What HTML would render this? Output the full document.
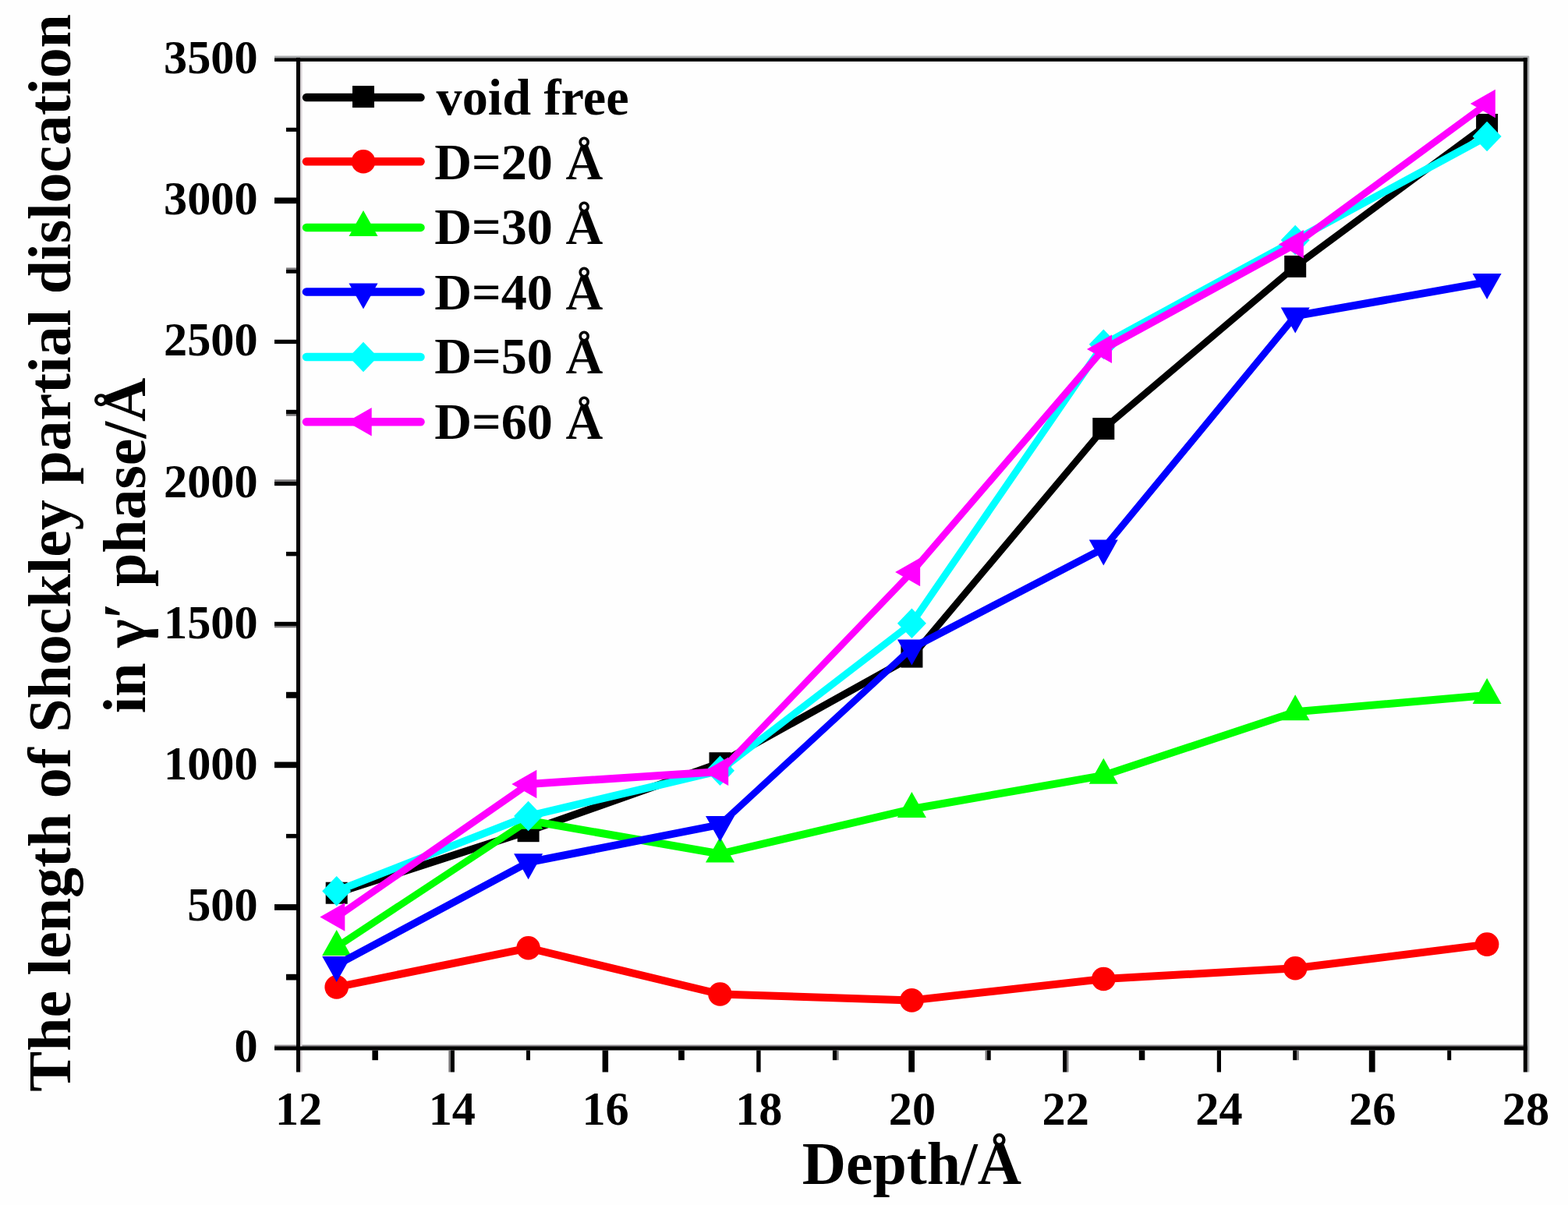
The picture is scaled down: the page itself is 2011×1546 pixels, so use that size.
<!DOCTYPE html>
<html lang="en"><head><meta charset="utf-8"><title>The length of Shockley partial dislocation vs Depth</title>
<style>
html,body{margin:0;padding:0;background:#fff;}
body{width:2011px;height:1546px;overflow:hidden;}
svg{display:block;}
text{font-family:"Liberation Serif","DejaVu Serif",serif;font-weight:bold;fill:#000;}
.tick{font-size:60.3px;}
.leg{font-size:66.2px;}
.ttl{font-size:77.9px;}
</style></head><body>
<svg width="2011" height="1546" viewBox="0 0 2011 1546" role="img" aria-label="Line chart">
<rect x="0" y="0" width="2011" height="1546" fill="#fefefe"/>
<g fill="none" stroke-linejoin="round" stroke-linecap="round">
<g stroke="#000000">
<line x1="431.7" y1="1145.7" x2="677.6" y2="1066.2" stroke-width="9.75"/>
<line x1="677.6" y1="1066.2" x2="923.5" y2="979.2" stroke-width="9.71"/>
<line x1="923.5" y1="979.2" x2="1169.4" y2="842.6" stroke-width="9.35"/>
<line x1="1169.4" y1="842.6" x2="1415.3" y2="550" stroke-width="8.75"/>
<line x1="1415.3" y1="550" x2="1661.2" y2="341.9" stroke-width="8.74"/>
<line x1="1661.2" y1="341.9" x2="1907.1" y2="160" stroke-width="8.97"/>
<rect x="417.7" y="1131.7" width="28" height="28" fill="#000000" stroke="none"/>
<rect x="663.6" y="1052.2" width="28" height="28" fill="#000000" stroke="none"/>
<rect x="909.5" y="965.2" width="28" height="28" fill="#000000" stroke="none"/>
<rect x="1155.4" y="828.6" width="28" height="28" fill="#000000" stroke="none"/>
<rect x="1401.3" y="536" width="28" height="28" fill="#000000" stroke="none"/>
<rect x="1647.2" y="327.9" width="28" height="28" fill="#000000" stroke="none"/>
<rect x="1893.1" y="146" width="28" height="28" fill="#000000" stroke="none"/>
</g>
<g stroke="#ff0000">
<line x1="431.7" y1="1266.5" x2="677.6" y2="1216.3" stroke-width="9.9"/>
<line x1="677.6" y1="1216.3" x2="923.5" y2="1275.5" stroke-width="9.86"/>
<line x1="923.5" y1="1275.5" x2="1169.4" y2="1283.4" stroke-width="10"/>
<line x1="1169.4" y1="1283.4" x2="1415.3" y2="1256" stroke-width="9.97"/>
<line x1="1415.3" y1="1256" x2="1661.2" y2="1242.2" stroke-width="9.99"/>
<line x1="1661.2" y1="1242.2" x2="1907.1" y2="1211.6" stroke-width="9.96"/>
<circle cx="431.7" cy="1266.5" r="15.3" fill="#ff0000" stroke="none"/>
<circle cx="677.6" cy="1216.3" r="15.3" fill="#ff0000" stroke="none"/>
<circle cx="923.5" cy="1275.5" r="15.3" fill="#ff0000" stroke="none"/>
<circle cx="1169.4" cy="1283.4" r="15.3" fill="#ff0000" stroke="none"/>
<circle cx="1415.3" cy="1256" r="15.3" fill="#ff0000" stroke="none"/>
<circle cx="1661.2" cy="1242.2" r="15.3" fill="#ff0000" stroke="none"/>
<circle cx="1907.1" cy="1211.6" r="15.3" fill="#ff0000" stroke="none"/>
</g>
<g stroke="#00ff00">
<line x1="431.7" y1="1215" x2="677.6" y2="1052.7" stroke-width="9.14"/>
<line x1="677.6" y1="1052.7" x2="923.5" y2="1095.5" stroke-width="9.93"/>
<line x1="923.5" y1="1095.5" x2="1169.4" y2="1038" stroke-width="9.87"/>
<line x1="1169.4" y1="1038" x2="1415.3" y2="994.8" stroke-width="9.92"/>
<line x1="1415.3" y1="994.8" x2="1661.2" y2="913.3" stroke-width="9.74"/>
<line x1="1661.2" y1="913.3" x2="1907.1" y2="892" stroke-width="9.98"/>
<polygon points="431.7,1193 450.2,1226 413.2,1226" fill="#00ff00" stroke="none"/>
<polygon points="677.6,1030.7 696.1,1063.7 659.1,1063.7" fill="#00ff00" stroke="none"/>
<polygon points="923.5,1073.5 942,1106.5 905,1106.5" fill="#00ff00" stroke="none"/>
<polygon points="1169.4,1016 1187.9,1049 1150.9,1049" fill="#00ff00" stroke="none"/>
<polygon points="1415.3,972.8 1433.8,1005.8 1396.8,1005.8" fill="#00ff00" stroke="none"/>
<polygon points="1661.2,891.3 1679.7,924.3 1642.7,924.3" fill="#00ff00" stroke="none"/>
<polygon points="1907.1,870 1925.6,903 1888.6,903" fill="#00ff00" stroke="none"/>
</g>
<g stroke="#0000ff">
<line x1="431.7" y1="1238" x2="677.6" y2="1106.3" stroke-width="9.39"/>
<line x1="677.6" y1="1106.3" x2="923.5" y2="1058" stroke-width="9.91"/>
<line x1="923.5" y1="1058" x2="1169.4" y2="831.5" stroke-width="8.58"/>
<line x1="1169.4" y1="831.5" x2="1415.3" y2="703.6" stroke-width="9.42"/>
<line x1="1415.3" y1="703.6" x2="1661.2" y2="405.4" stroke-width="8.78"/>
<line x1="1661.2" y1="405.4" x2="1907.1" y2="361.9" stroke-width="9.92"/>
<polygon points="431.7,1260 450.2,1227 413.2,1227" fill="#0000ff" stroke="none"/>
<polygon points="677.6,1128.3 696.1,1095.3 659.1,1095.3" fill="#0000ff" stroke="none"/>
<polygon points="923.5,1080 942,1047 905,1047" fill="#0000ff" stroke="none"/>
<polygon points="1169.4,853.5 1187.9,820.5 1150.9,820.5" fill="#0000ff" stroke="none"/>
<polygon points="1415.3,725.6 1433.8,692.6 1396.8,692.6" fill="#0000ff" stroke="none"/>
<polygon points="1661.2,427.4 1679.7,394.4 1642.7,394.4" fill="#0000ff" stroke="none"/>
<polygon points="1907.1,383.9 1925.6,350.9 1888.6,350.9" fill="#0000ff" stroke="none"/>
</g>
<g stroke="#00ffff">
<line x1="431.7" y1="1143.3" x2="677.6" y2="1047" stroke-width="9.65"/>
<line x1="677.6" y1="1047" x2="923.5" y2="988.8" stroke-width="9.86"/>
<line x1="923.5" y1="988.8" x2="1169.4" y2="799.7" stroke-width="8.9"/>
<line x1="1169.4" y1="799.7" x2="1415.3" y2="441.8" stroke-width="9.08"/>
<line x1="1415.3" y1="441.8" x2="1661.2" y2="308" stroke-width="9.37"/>
<line x1="1661.2" y1="308" x2="1907.1" y2="175" stroke-width="9.38"/>
<polygon points="431.7,1124 450.2,1143.3 431.7,1162.5 413.2,1143.3" fill="#00ffff" stroke="none"/>
<polygon points="677.6,1027.8 696.1,1047 677.6,1066.2 659.1,1047" fill="#00ffff" stroke="none"/>
<polygon points="923.5,969.5 942,988.8 923.5,1008 905,988.8" fill="#00ffff" stroke="none"/>
<polygon points="1169.4,780.5 1187.9,799.7 1169.4,819 1150.9,799.7" fill="#00ffff" stroke="none"/>
<polygon points="1415.3,422.6 1433.8,441.8 1415.3,461.1 1396.8,441.8" fill="#00ffff" stroke="none"/>
<polygon points="1661.2,288.8 1679.7,308 1661.2,327.2 1642.7,308" fill="#00ffff" stroke="none"/>
<polygon points="1907.1,155.8 1925.6,175 1907.1,194.2 1888.6,175" fill="#00ffff" stroke="none"/>
</g>
<g stroke="#ff00ff">
<line x1="431.7" y1="1176.6" x2="677.6" y2="1006" stroke-width="9.06"/>
<line x1="677.6" y1="1006" x2="923.5" y2="989.9" stroke-width="9.99"/>
<line x1="923.5" y1="989.9" x2="1169.4" y2="734" stroke-width="8.49"/>
<line x1="1169.4" y1="734" x2="1415.3" y2="447.9" stroke-width="8.71"/>
<line x1="1415.3" y1="447.9" x2="1661.2" y2="313.4" stroke-width="9.37"/>
<line x1="1661.2" y1="313.4" x2="1907.1" y2="133" stroke-width="8.98"/>
<polygon points="410.3,1176.6 442.3,1158.3 442.3,1194.8" fill="#ff00ff" stroke="none"/>
<polygon points="656.3,1006 688.3,987.8 688.3,1024.2" fill="#ff00ff" stroke="none"/>
<polygon points="902.2,989.9 934.2,971.6 934.2,1008.1" fill="#ff00ff" stroke="none"/>
<polygon points="1148.1,734 1180.1,715.8 1180.1,752.2" fill="#ff00ff" stroke="none"/>
<polygon points="1394,447.9 1426,429.6 1426,466.1" fill="#ff00ff" stroke="none"/>
<polygon points="1639.9,313.4 1671.9,295.1 1671.9,331.6" fill="#ff00ff" stroke="none"/>
<polygon points="1885.8,133 1917.8,114.8 1917.8,151.2" fill="#ff00ff" stroke="none"/>
</g>
</g>
<g fill="#000">
<rect x="352" y="71.6" width="1608.8" height="3" fill="#a9abad"/>
<rect x="352" y="1340.5" width="1606.8" height="2.5" fill="#8f8b8f"/>
<rect x="1958.8" y="72.1" width="2.5" height="1303.4" fill="#a9abad"/>
<rect x="385" y="79.1" width="2.5" height="1296.4" fill="#d8d2d6"/>
<rect x="352" y="74.4" width="1606.8" height="4.5"/>
<rect x="352" y="1342.5" width="1606.8" height="5"/>
<rect x="380" y="74.1" width="5" height="1301.4"/>
<rect x="1953.8" y="74.1" width="5" height="1301.4"/>
<rect x="367" y="163.8" width="13" height="5.1"/>
<rect x="352" y="253.5" width="28" height="7.7"/>
<rect x="367" y="345.7" width="13" height="5"/>
<rect x="367" y="343.5" width="13" height="2.2" fill="#757375"/>
<rect x="352" y="435.8" width="28" height="5.3"/>
<rect x="367" y="525.8" width="13" height="5.7"/>
<rect x="367" y="531.5" width="13" height="2.2" fill="#757375"/>
<rect x="352" y="617.8" width="28" height="5.4"/>
<rect x="352" y="615.3" width="28" height="2.5" fill="#757375"/>
<rect x="367" y="707.9" width="13" height="5.5"/>
<rect x="352" y="797.8" width="28" height="5.3"/>
<rect x="352" y="803.1" width="28" height="2.2" fill="#757375"/>
<rect x="367" y="887.8" width="13" height="7.9"/>
<rect x="352" y="977.5" width="28" height="7.7"/>
<rect x="367" y="1069.9" width="13" height="5.5"/>
<rect x="352" y="1160.1" width="28" height="7.7"/>
<rect x="367" y="1249.8" width="13" height="7.7"/>
<rect x="477.4" y="1347.5" width="7.5" height="12.7"/>
<rect x="577.9" y="1347.5" width="5" height="28"/>
<rect x="575.4" y="1347.5" width="2.5" height="28" fill="#757375"/>
<rect x="675" y="1347.5" width="5" height="12.7"/>
<rect x="772.6" y="1347.5" width="7.5" height="28"/>
<rect x="870.1" y="1347.5" width="7.7" height="12.7"/>
<rect x="970.2" y="1347.5" width="5.4" height="28"/>
<rect x="1067.9" y="1347.5" width="5.2" height="12.7"/>
<rect x="1073.1" y="1347.5" width="2.5" height="12.7" fill="#757375"/>
<rect x="1165.3" y="1347.5" width="7.7" height="28"/>
<rect x="1265.8" y="1347.5" width="4.9" height="12.7"/>
<rect x="1263.6" y="1347.5" width="2.2" height="12.7" fill="#757375"/>
<rect x="1363.1" y="1347.5" width="5.2" height="28"/>
<rect x="1368.3" y="1347.5" width="2.1" height="28" fill="#757375"/>
<rect x="1460.8" y="1347.5" width="7.5" height="12.7"/>
<rect x="1560.8" y="1347.5" width="5.2" height="28"/>
<rect x="1658.2" y="1347.5" width="5.1" height="12.7"/>
<rect x="1663.3" y="1347.5" width="2.5" height="12.7" fill="#757375"/>
<rect x="1755.8" y="1347.5" width="7.8" height="28"/>
<rect x="1856.2" y="1347.5" width="5" height="12.7"/>
</g>
<text class="tick" text-anchor="end" transform="translate(330.6 1362.4) scale(1.0 1.03)">0</text>
<text class="tick" text-anchor="end" transform="translate(330.6 1181.2) scale(1.0 1.03)">500</text>
<text class="tick" text-anchor="end" transform="translate(330.6 1000) scale(1.0 1.03)">1000</text>
<text class="tick" text-anchor="end" transform="translate(330.6 818.8) scale(1.0 1.03)">1500</text>
<text class="tick" text-anchor="end" transform="translate(330.6 637.6) scale(1.0 1.03)">2000</text>
<text class="tick" text-anchor="end" transform="translate(330.6 456.4) scale(1.0 1.03)">2500</text>
<text class="tick" text-anchor="end" transform="translate(330.6 275.2) scale(1.0 1.03)">3000</text>
<text class="tick" text-anchor="end" transform="translate(330.6 94) scale(1.0 1.03)">3500</text>
<text class="tick" text-anchor="middle" transform="translate(383.1 1443.2) scale(1.0 1.03)">12</text>
<text class="tick" text-anchor="middle" transform="translate(579.83 1443.2) scale(1.0 1.03)">14</text>
<text class="tick" text-anchor="middle" transform="translate(776.55 1443.2) scale(1.0 1.03)">16</text>
<text class="tick" text-anchor="middle" transform="translate(973.27 1443.2) scale(1.0 1.03)">18</text>
<text class="tick" text-anchor="middle" transform="translate(1170 1443.2) scale(1.0 1.03)">20</text>
<text class="tick" text-anchor="middle" transform="translate(1366.72 1443.2) scale(1.0 1.03)">22</text>
<text class="tick" text-anchor="middle" transform="translate(1563.45 1443.2) scale(1.0 1.03)">24</text>
<text class="tick" text-anchor="middle" transform="translate(1760.17 1443.2) scale(1.0 1.03)">26</text>
<text class="tick" text-anchor="middle" transform="translate(1956.9 1443.2) scale(1.0 1.03)">28</text>
<text class="ttl" text-anchor="middle" transform="translate(1169.3 1519)">Depth/Å</text>
<text class="ttl" text-anchor="middle" transform="translate(90 709.4) rotate(-90)">The length of Shockley partial dislocation</text>
<text class="ttl" text-anchor="middle" transform="translate(186.3 700) rotate(-90)">in γ′ phase/Å</text>
<g>
<line x1="393" y1="125.1" x2="539.5" y2="125.1" stroke="#000000" stroke-width="10.5" stroke-linecap="round"/>
<rect x="452" y="110.1" width="28" height="28" fill="#000000" stroke="none"/>
<text class="leg" text-anchor="start" transform="translate(559.6 146.6)">void free</text>
<line x1="393" y1="207.3" x2="539.5" y2="207.3" stroke="#ff0000" stroke-width="10.5" stroke-linecap="round"/>
<circle cx="466" cy="207.3" r="15.3" fill="#ff0000" stroke="none"/>
<text class="leg" text-anchor="start" transform="translate(557.2 229.6)">D=20 Å</text>
<line x1="393" y1="291.9" x2="539.5" y2="291.9" stroke="#00ff00" stroke-width="10.5" stroke-linecap="round"/>
<polygon points="466,269.9 484.5,302.9 447.5,302.9" fill="#00ff00" stroke="none"/>
<text class="leg" text-anchor="start" transform="translate(557.2 312.8)">D=30 Å</text>
<line x1="393" y1="374.4" x2="539.5" y2="374.4" stroke="#0000ff" stroke-width="10.5" stroke-linecap="round"/>
<polygon points="466,396.4 484.5,363.4 447.5,363.4" fill="#0000ff" stroke="none"/>
<text class="leg" text-anchor="start" transform="translate(557.2 396.6)">D=40 Å</text>
<line x1="393" y1="458" x2="539.5" y2="458" stroke="#00ffff" stroke-width="10.5" stroke-linecap="round"/>
<polygon points="466,438.8 484.5,458 466,477.2 447.5,458" fill="#00ffff" stroke="none"/>
<text class="leg" text-anchor="start" transform="translate(557.2 478.9)">D=50 Å</text>
<line x1="393" y1="541.2" x2="539.5" y2="541.2" stroke="#ff00ff" stroke-width="10.5" stroke-linecap="round"/>
<polygon points="444.7,541.2 476.7,523 476.7,559.5" fill="#ff00ff" stroke="none"/>
<text class="leg" text-anchor="start" transform="translate(557.2 563.3)">D=60 Å</text>
</g>
</svg>
</body></html>
